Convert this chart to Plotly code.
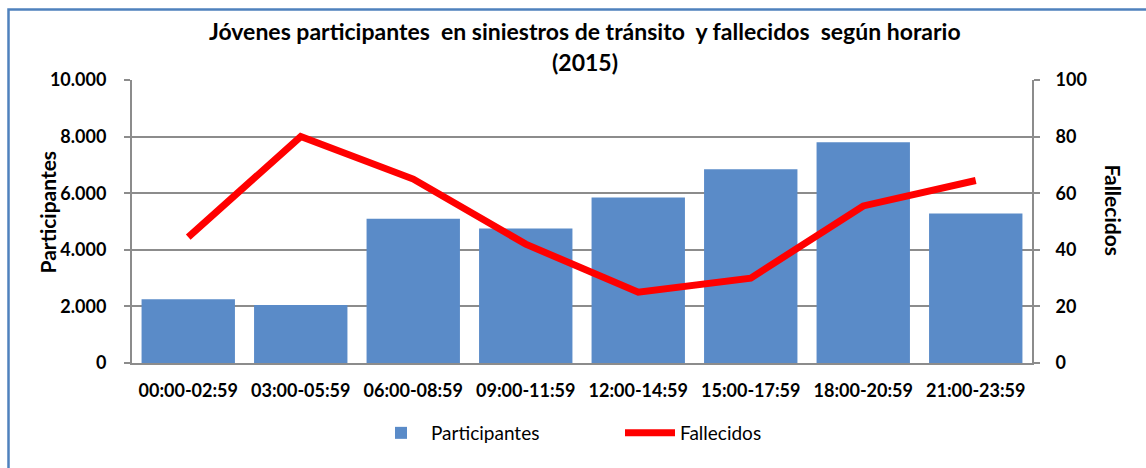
import plotly.graph_objects as go

categories = ["00:00-02:59", "03:00-05:59", "06:00-08:59", "09:00-11:59",
              "12:00-14:59", "15:00-17:59", "18:00-20:59", "21:00-23:59"]
participantes = [2250, 2050, 5100, 4750, 5850, 6850, 7800, 5280]
fallecidos = [44.5, 80, 65, 42, 25, 30, 55.5, 64.5]

left_tickvals = [0, 2000, 4000, 6000, 8000, 10000]
left_ticktext = ["0", "2.000", "4.000", "6.000", "8.000", "10.000"]
right_tickvals = [0, 20, 40, 60, 80, 100]
right_ticktext = ["0", "20", "40", "60", "80", "100"]

title_line1 = "Jóvenes participantes  en siniestros de tránsito  y fallecidos  según horario"
title_line2 = "(2015)"

FONT = "Lato"
GRID = "#8c8c8c"

fig = go.Figure()
fig.add_trace(go.Bar(
    x=categories, y=participantes, name="Participantes",
    marker=dict(color="#5a8bc8", line=dict(width=0)),
    width=0.83, yaxis="y",
))
fig.add_trace(go.Scatter(
    x=categories, y=fallecidos, name="Fallecidos", mode="lines",
    line=dict(color="#ff0000", width=7), yaxis="y2",
))

W, H = 1146, 468
L, R, T, B = 132, 114, 80, 105
pw = W - L - R
ph = H - T - B

def px_x(x):
    return (x - L) / pw

def px_y(y):
    return (H - B - y) / ph

title_font = dict(family=FONT, size=23, color="#000000", weight="bold")

fig.update_layout(
    width=W, height=H,
    margin=dict(l=L, r=R, t=T, b=B, autoexpand=False),
    paper_bgcolor="white", plot_bgcolor="white",
    font=dict(family=FONT, color="#000000"),
    showlegend=True,
    legend=dict(orientation="h", x=px_x(371), y=px_y(433), xanchor="left", yanchor="middle",
                font=dict(family=FONT, size=19, color="#000000"),
                itemwidth=50, entrywidthmode="pixels", entrywidth=184,
                bgcolor="rgba(0,0,0,0)"),
    xaxis=dict(
        type="category", showgrid=False, showline=True, linecolor=GRID, linewidth=2,
        ticks="", tickfont=dict(family=FONT, size=18, color="#000000", weight="bold"),
        ticklabelstandoff=10,
    ),
    yaxis=dict(
        range=[0, 10000], tickvals=left_tickvals, ticktext=left_ticktext,
        showgrid=True, gridcolor=GRID, gridwidth=1.5,
        showline=True, linecolor=GRID, linewidth=2,
        ticks="outside", ticklen=6, tickcolor=GRID, tickwidth=1.5,
        tickfont=dict(family=FONT, size=18, color="#000000", weight="bold"),
        zeroline=False, ticklabelstandoff=14,
    ),
    yaxis2=dict(
        range=[0, 100], tickvals=right_tickvals, ticktext=right_ticktext,
        overlaying="y", side="right", showgrid=False,
        showline=True, linecolor=GRID, linewidth=2,
        ticks="outside", ticklen=6, tickcolor=GRID, tickwidth=1.5,
        tickfont=dict(family=FONT, size=18, color="#000000", weight="bold"),
        zeroline=False, ticklabelstandoff=12,
    ),
    annotations=[
        dict(text=title_line1, xref="paper", yref="paper",
             x=px_x(585), y=px_y(31), xanchor="center", yanchor="middle",
             showarrow=False, font=title_font),
        dict(text=title_line2, xref="paper", yref="paper",
             x=px_x(585), y=px_y(62), xanchor="center", yanchor="middle",
             showarrow=False, font=title_font),
        dict(text="Participantes", textangle=-90, xref="paper", yref="paper",
             x=px_x(32), y=px_y(212), showarrow=False,
             font=dict(family=FONT, size=21, color="#000000", weight="bold")),
        dict(text="Fallecidos", textangle=90, xref="paper", yref="paper",
             x=px_x(1128), y=px_y(210), showarrow=False,
             font=dict(family=FONT, size=21, color="#000000", weight="bold")),
    ],
    shapes=[
        dict(type="rect", xref="paper", yref="paper",
             x0=px_x(8.5), x1=px_x(1170), y0=px_y(490), y1=px_y(9.5),
             line=dict(color="#4f81bd", width=2.5), fillcolor="rgba(0,0,0,0)",
             layer="below"),
    ],
)

fig.write_html("out.html", config={"displayModeBar": False},
               post_script="document.body.style.margin='0';")
